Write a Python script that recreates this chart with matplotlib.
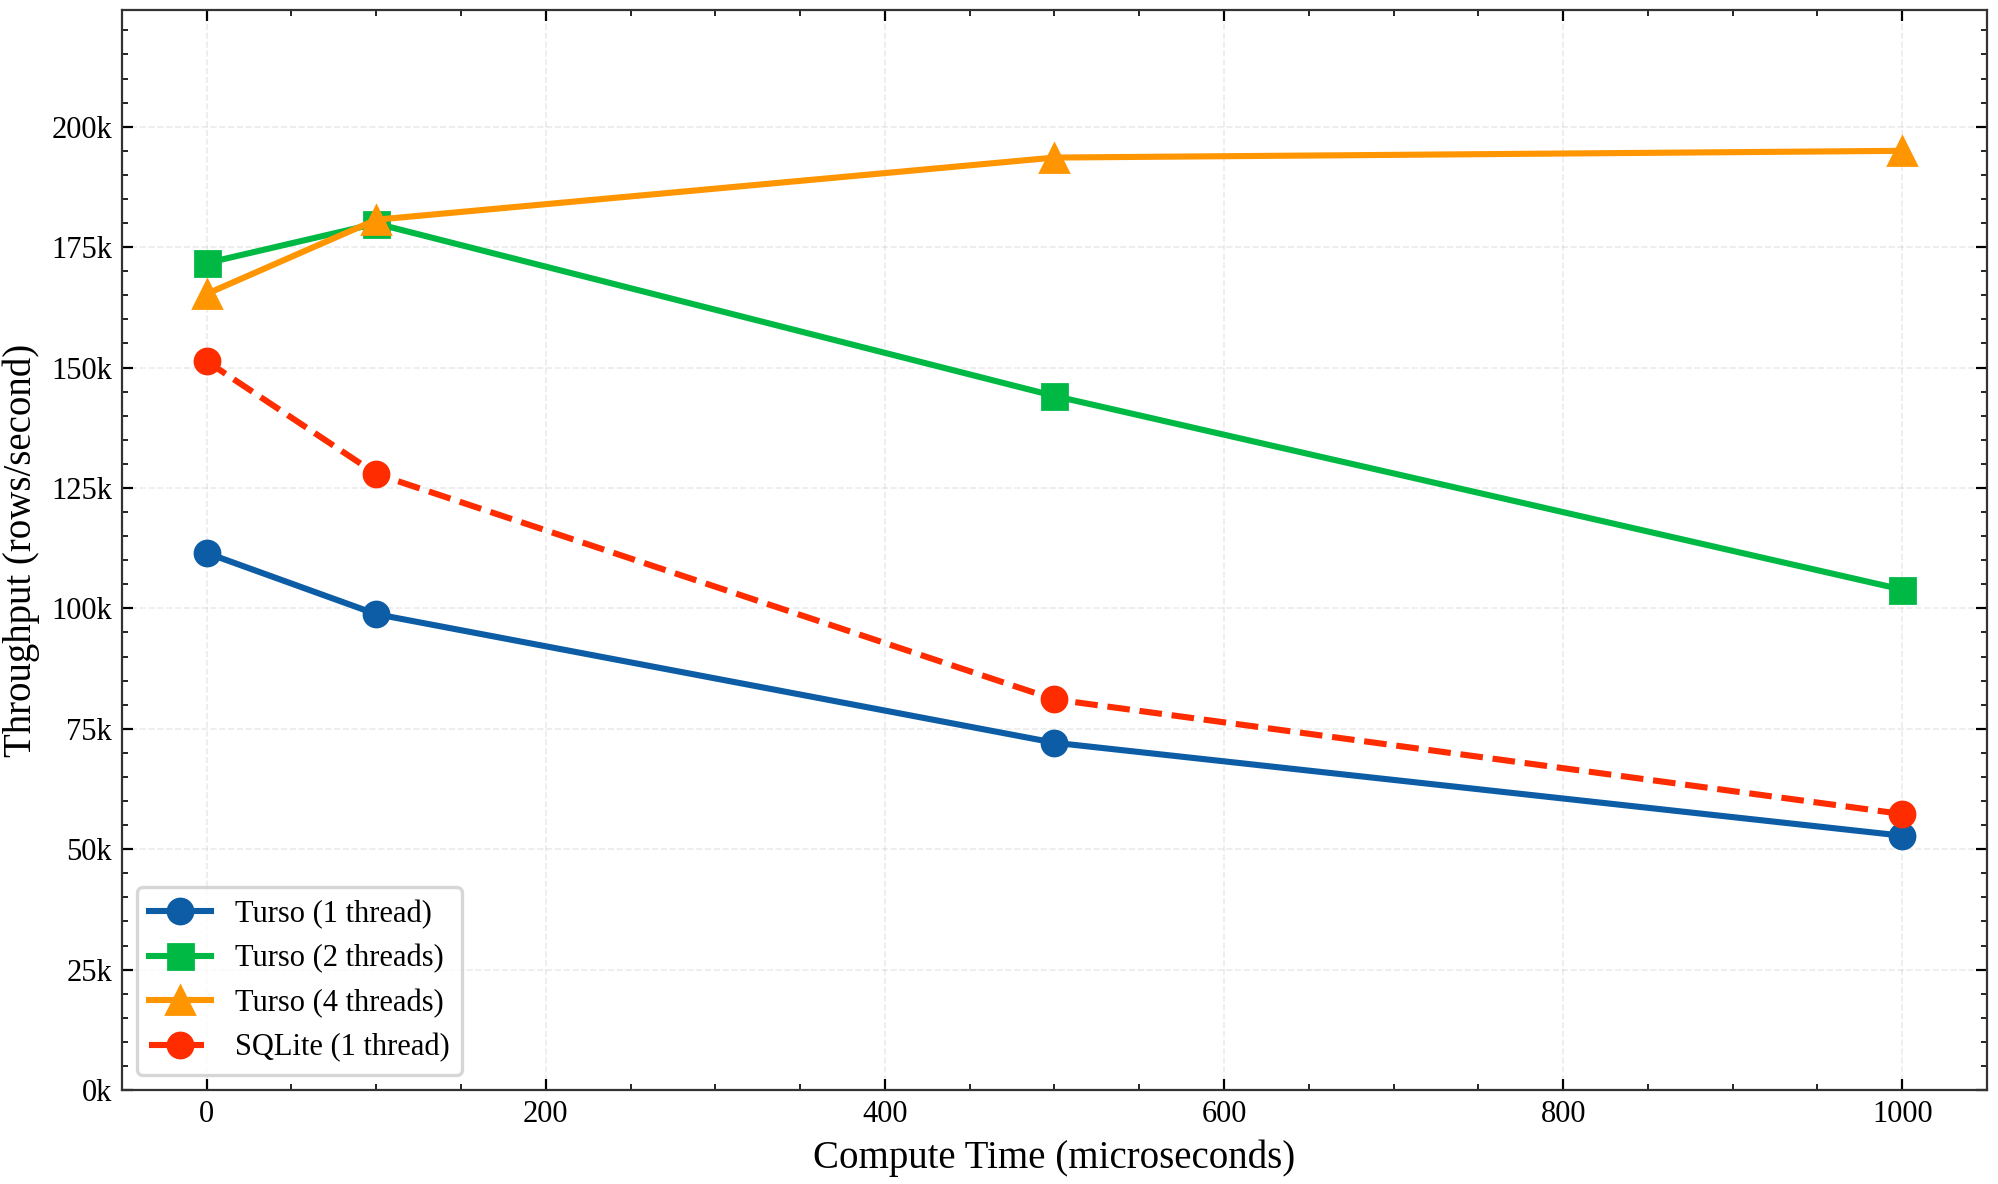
import matplotlib.pyplot as plt
from matplotlib.ticker import FuncFormatter, AutoMinorLocator

# Compute time (microseconds)
compute_time = [0, 100, 500, 1000]

# Throughput in rows/second
turso_1 = [111500, 98800, 72100, 52800]
turso_2 = [171700, 179900, 144100, 103900]
turso_4 = [165300, 180700, 193600, 195000]
sqlite_1 = [151300, 127900, 81100, 57300]

labels = ['Turso (1 thread)', 'Turso (2 threads)', 'Turso (4 threads)', 'SQLite (1 thread)']
colors = ['#0C5DA5', '#00B945', '#FF9500', '#FF2C00']

plt.rcParams['font.family'] = ['Liberation Serif', 'DejaVu Serif']
plt.rcParams['mathtext.fontset'] = 'stix'

fig, ax = plt.subplots(figsize=(9.995, 5.92), dpi=200)
fig.subplots_adjust(left=0.061, right=0.994, top=0.9916, bottom=0.0794)

ax.plot(compute_time, turso_1, color=colors[0], marker='o', markersize=9, linewidth=2.2, label=labels[0])
ax.plot(compute_time, turso_2, color=colors[1], marker='s', markersize=9, linewidth=2.2, label=labels[1])
ax.plot(compute_time, turso_4, color=colors[2], marker='^', markersize=10, linewidth=2.2, label=labels[2])
ax.plot(compute_time, sqlite_1, color=colors[3], marker='o', markersize=9, linewidth=2.2, linestyle='--', label=labels[3])

ax.set_xlabel('Compute Time (microseconds)', fontsize=14)
ax.set_ylabel('Throughput (rows/second)', fontsize=14)
ax.set_ylim(0, max(turso_4) * 1.15)
ax.yaxis.set_major_formatter(FuncFormatter(lambda v, p: '%dk' % (v / 1000)))

ax.xaxis.set_minor_locator(AutoMinorLocator(4))
ax.yaxis.set_minor_locator(AutoMinorLocator(5))
ax.tick_params(which='both', direction='in', top=True, right=True, labelsize=11)
ax.tick_params(which='major', length=4)
ax.tick_params(which='minor', length=2)
for s in ax.spines.values():
    s.set_linewidth(0.8)
    s.set_color('#333333')

ax.grid(True, linestyle='--', alpha=0.25, linewidth=0.6)
leg = ax.legend(loc='lower left', fontsize=11, frameon=True, fancybox=True, framealpha=0.8, edgecolor='#cccccc')
leg.get_frame().set_linewidth(1.2)

plt.savefig('out.png', dpi=200)
